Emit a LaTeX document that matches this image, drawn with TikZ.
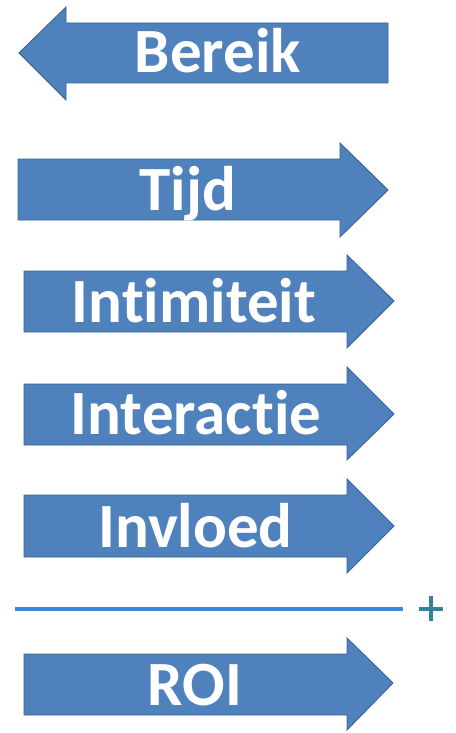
\documentclass[tikz,border=0pt]{standalone}
\usepackage{fontspec}
\setmainfont{Carlito}[Ligatures={NoCommon}]
\definecolor{arrowfill}{HTML}{4F81BD}
\definecolor{arrowedge}{HTML}{3A6294}
\definecolor{rulecol}{HTML}{3F87D9}
\definecolor{pluscol}{HTML}{31849B}
\tikzset{
  arrowbody/.style={fill=arrowfill, draw=arrowedge, line width=0.9pt, line join=miter},
  lbl/.style={text=white, font=\fontsize{63}{63}\selectfont\bfseries, anchor=base, inner sep=0pt},
}
\begin{document}
\begin{tikzpicture}[x=1pt,y=-1pt]
\useasboundingbox (0,0) rectangle (455,733);
% Bereik (left arrow)
\draw[arrowbody] (19,53) -- (66,7) -- (66,23) -- (388,23) -- (388,83) -- (66,83) -- (66,100) -- cycle;
\node[lbl] (bereik) at (218,73) {Bereik};
% Tijd
\draw[arrowbody] (18,159) -- (340,159) -- (340,143) -- (388,190) -- (340,237) -- (340,220) -- (18,220) -- cycle;
\node[lbl] (tijd) at (188,210) {Tijd};
% Intimiteit
\draw[arrowbody] (24,271) -- (347,271) -- (347,255) -- (394,301) -- (347,348) -- (347,332) -- (24,332) -- cycle;
\node[lbl] (intimiteit) at (194,322) {Intimiteit};
% Interactie
\draw[arrowbody] (24,384) -- (347,384) -- (347,367) -- (394,414) -- (347,460) -- (347,445) -- (24,445) -- cycle;
\node[lbl] (interactie) at (196,434) {Interactie};
% Invloed
\draw[arrowbody] (24,495) -- (347,495) -- (347,479) -- (394,526) -- (347,573) -- (347,557) -- (24,557) -- cycle;
\node[lbl] (invloed) at (195.5,547) {Invloed};
% rule and plus
\coordinate (ruleL) at (15,609);
\coordinate (ruleR) at (403,609);
\draw[rulecol, line width=4pt] (ruleL) -- (ruleR);
\coordinate (plusc) at (431,609);
\draw[pluscol, line width=3.6pt] ([xshift=-12pt]plusc) -- ([xshift=12pt]plusc);
\draw[pluscol, line width=3.6pt] ([yshift=-12pt]plusc) -- ([yshift=13pt]plusc);
% ROI
\draw[arrowbody] (24,654) -- (347,654) -- (347,638) -- (393,683) -- (347,730) -- (347,715) -- (24,715) -- cycle;
\node[lbl] (roi) at (195,705) {ROI};
\end{tikzpicture}
\end{document}
